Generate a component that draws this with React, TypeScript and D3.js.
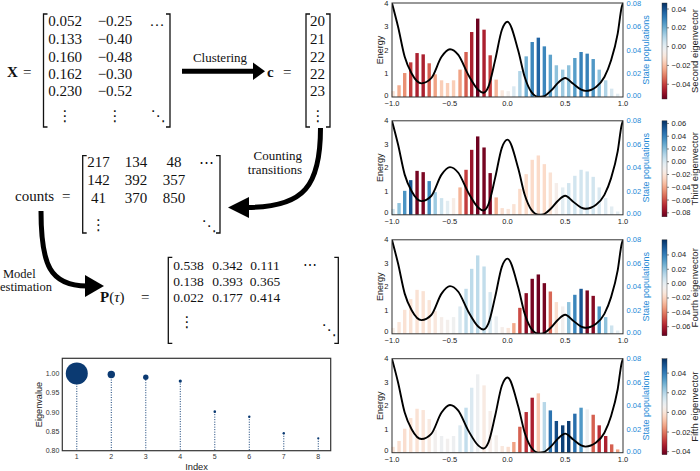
import React from "react";
import * as d3 from "d3";

// ---------- DATA ----------
const xMatrix = [
  ["0.052", "−0.25", "…"],
  ["0.133", "−0.40", ""],
  ["0.160", "−0.48", ""],
  ["0.162", "−0.30", ""],
  ["0.230", "−0.52", ""],
];
const cVector = ["20", "21", "22", "22", "23"];
const countsMatrix = [
  ["217", "134", "48", "⋯"],
  ["142", "392", "357", ""],
  ["41", "370", "850", ""],
];
const pMatrix = [
  ["0.538", "0.342", "0.111", "⋯"],
  ["0.138", "0.393", "0.365", ""],
  ["0.022", "0.177", "0.414", ""],
];

const eigIndex = [1, 2, 3, 4, 5, 6, 7, 8];
const eigValue = [1.0, 0.997, 0.99, 0.98, 0.901, 0.888, 0.845, 0.832];
const eigRadius = [11, 3.7, 2.7, 1.6, 1.3, 1.2, 1.2, 1.1];
const eigYTicks = [0.8, 0.85, 0.9, 0.95, 1.0];

const stateX = [-0.991, -0.939, -0.89, -0.838, -0.783, -0.73, -0.678, -0.626, -0.571, -0.519, -0.467, -0.411, -0.359, -0.31, -0.258, -0.203, -0.15, -0.098, -0.046, 0.006, 0.055, 0.107, 0.162, 0.214, 0.267, 0.319, 0.371, 0.423, 0.478, 0.53, 0.583, 0.637, 0.69, 0.742, 0.794, 0.85, 0.902, 0.954];
const statePop = [0.005, 0.01, 0.0204, 0.0295, 0.0374, 0.0363, 0.0287, 0.0193, 0.0142, 0.0119, 0.0142, 0.0233, 0.0383, 0.0553, 0.0667, 0.0573, 0.0355, 0.0148, 0.0057, 0.005, 0.0091, 0.0221, 0.0346, 0.0468, 0.0505, 0.0431, 0.036, 0.027, 0.0233, 0.027, 0.0332, 0.0383, 0.0369, 0.0323, 0.0233, 0.0142, 0.0071, 0.0028];

const energyX = [-1.0, -0.948, -0.89, -0.83, -0.745, -0.66, -0.571, -0.498, -0.426, -0.339, -0.252, -0.209, -0.165, -0.107, -0.049, 0.0, 0.092, 0.149, 0.207, 0.27, 0.31, 0.379, 0.437, 0.5, 0.566, 0.638, 0.676, 0.767, 0.839, 0.897, 0.954, 0.989, 1.0];
const energyY = [3.99, 3.0, 1.71, 1.0, 0.58, 0.8, 1.71, 2.03, 1.79, 0.94, 0.3, 0.18, 0.44, 1.57, 2.85, 3.2, 1.99, 0.85, 0.21, 0.0, 0.02, 0.28, 0.6, 0.81, 0.57, 0.31, 0.26, 0.43, 0.85, 1.56, 2.7, 3.83, 4.0];

const ev2 = [-0.0118, -0.023, -0.0281, -0.0404, -0.0455, -0.0455, -0.0353, -0.0251, -0.0169, -0.0169, -0.0169, -0.0251, -0.0353, -0.0455, -0.055, -0.0455, -0.0404, -0.022, -0.0098, -0.0047, 0.0025, 0.0107, 0.0199, 0.029, 0.0362, 0.029, 0.0229, 0.0158, 0.0137, 0.0158, 0.0239, 0.0301, 0.0301, 0.025, 0.0158, 0.0107, 0.0035, 0.0005];
const ev3 = [0.004, 0.0191, 0.0341, 0.0537, -0.0833, -0.0818, 0.0371, 0.016, 0.004, -0.0035, -0.0156, -0.0366, -0.0637, -0.0758, -0.0848, -0.0833, -0.0818, -0.0381, -0.0231, -0.0201, -0.0216, -0.0246, -0.0246, -0.0246, -0.0246, -0.0246, -0.0216, -0.0141, -0.0035, 0.0025, 0.0025, 0.0025, 0.0025, 0.0025, -0.0005, -0.002, -0.0035, -0.0035];
const ev4 = [-0.0098, -0.0138, -0.0152, -0.0152, -0.0152, -0.0152, -0.0138, -0.0125, -0.0085, -0.0071, -0.0045, 0.0036, 0.0103, 0.0116, 0.0116, 0.0103, 0.0049, -0.0018, -0.0085, -0.0138, -0.0312, -0.05, -0.066, -0.07, -0.0714, -0.07, -0.0446, -0.0165, -0.0058, 0.021, 0.0384, 0.0517, -0.07, -0.0673, 0.0343, 0.021, 0.0076, 0.0009];
const ev5 = [-0.001, -0.002, -0.002, -0.001, -0.001, 0.0, 0.0019, 0.0058, 0.0078, 0.0058, 0.0078, 0.0126, 0.0175, 0.0126, 0.0078, 0.0019, 0.0038, 0.0048, 0.0009, -0.002, -0.0138, -0.0235, -0.0304, -0.0333, -0.0069, 0.0195, 0.042, 0.0498, 0.0518, 0.0527, 0.043, 0.0342, 0.0078, -0.0235, -0.0304, -0.0333, -0.0235, -0.0138];

const panelLabels = ["Second eigenvector", "Third eigenvector", "Fourth eigenvector", "Fifth eigenvector"];
const panelValues = [ev2, ev3, ev4, ev5];
const panelDomains = [[-0.0557, 0.0464], [-0.0863, 0.0642], [-0.0727, 0.0611], [-0.0431, 0.0547]];
const panelCbTicks = [
  [0.04, 0.02, 0.0, -0.02, -0.04],
  [0.06, 0.04, 0.02, 0.0, -0.02, -0.04, -0.06, -0.08],
  [0.04, 0.02, 0.0, -0.02, -0.04, -0.06],
  [0.04, 0.02, 0.0, -0.02, -0.04],
];
const energyTicks = [0, 1, 2, 3, 4];
const popTicks = [0, 0.02, 0.04, 0.06, 0.08];
const xTicks = [-1.0, -0.5, 0.0, 0.5, 1.0];

// ---------- STYLE ----------
const SANS = "'Liberation Sans', Arial, Helvetica, sans-serif";
const SERIF = "'Liberation Serif', 'Times New Roman', serif";
const DOTS = "'DejaVu Serif', 'DejaVu Sans', serif";
const BLUE = "#2389d6";
const NAVY = "#0b3a72";
const fmtMinus = (s: string) => s.replace("-", "−");

function Bracket({ x1, x2, y1, y2 }: { x1: number; x2: number; y1: number; y2: number }) {
  const s = 4;
  const d = `M${x1 + s},${y1} H${x1} V${y2} H${x1 + s} M${x2 - s},${y1} H${x2} V${y2} H${x2 - s}`;
  return <path d={d} fill="none" stroke="#111" strokeWidth={1.3} />;
}

function LeftDiagram() {
  const xRowY = [26, 44, 61.7, 79.3, 96];
  const xColX = [65, 115, 157];
  const cntRowY = [167.3, 185, 202.7];
  const cntColX = [98.5, 136, 174, 206];
  const pRowY = [269.5, 285.5, 302];
  const pColX = [188.5, 227.5, 265, 310];
  return (
    <g fontFamily={SERIF} fill="#111">
      {/* X = matrix */}
      <text x={7} y={77} fontSize={15} fontWeight="bold">X</text>
      <text x={23} y={77} fontSize={15}>=</text>
      <Bracket x1={43.5} x2={170} y1={14} y2={127} />
      {xMatrix.map((row, r) =>
        row.map((v, c) =>
          v ? (
            <text key={`x${r}${c}`} x={xColX[c]} y={xRowY[r]} fontSize={15} textAnchor="middle">{v}</text>
          ) : null
        )
      )}
      <text x={65} y={121} fontSize={15} textAnchor="middle" fontFamily={DOTS}>⋮</text>
      <text x={115} y={121} fontSize={15} textAnchor="middle" fontFamily={DOTS}>⋮</text>
      <text x={158} y={121} fontSize={15} textAnchor="middle" fontFamily={DOTS}>⋱</text>

      {/* Clustering arrow */}
      <text x={220} y={62} fontSize={13} textAnchor="middle">Clustering</text>
      <line x1={182} x2={255} y1={71.3} y2={71.3} stroke="#000" strokeWidth={5} />
      <polygon points="253,62.5 265,71.3 253,80" fill="#000" />

      {/* c = vector */}
      <text x={267} y={77} fontSize={15} fontWeight="bold">c</text>
      <text x={283} y={77} fontSize={15}>=</text>
      <Bracket x1={306} x2={330} y1={14} y2={127} />
      {cVector.map((v, r) => (
        <text key={`c${r}`} x={317.5} y={xRowY[r]} fontSize={15} textAnchor="middle">{v}</text>
      ))}
      <text x={318} y={121} fontSize={15} textAnchor="middle" fontFamily={DOTS}>⋮</text>

      {/* Counting transitions arrow */}
      <path d="M320.5,128 C320.5,185 305,207.5 247,207.5" fill="none" stroke="#000" strokeWidth={5} />
      <polygon points="249,197 228,207.5 249,218" fill="#000" />
      <text x={302} y={160} fontSize={13} textAnchor="end">Counting</text>
      <text x={302} y={174} fontSize={13} textAnchor="end">transitions</text>

      {/* counts matrix */}
      <text x={15} y={200.5} fontSize={15}>counts</text>
      <text x={62} y={200.5} fontSize={15}>=</text>
      <Bracket x1={82.7} x2={220} y1={155.7} y2={233} />
      {countsMatrix.map((row, r) =>
        row.map((v, c) =>
          v ? (
            <text key={`n${r}${c}`} x={cntColX[c]} y={cntRowY[r]} fontSize={15} textAnchor="middle">{v}</text>
          ) : null
        )
      )}
      <text x={98.5} y={230} fontSize={15} textAnchor="middle" fontFamily={DOTS}>⋮</text>
      <text x={209} y={231} fontSize={15} textAnchor="middle" fontFamily={DOTS}>⋱</text>

      {/* Model estimation arrow */}
      <path d="M41,211 C41,265 50,286 87,286" fill="none" stroke="#000" strokeWidth={5} />
      <polygon points="85,275 104,286 85,297" fill="#000" />
      <text x={3} y={277.5} fontSize={12.5}>Model</text>
      <text x={0} y={290.5} fontSize={12.5}>estimation</text>

      {/* P matrix */}
      <text x={100} y={302} fontSize={15}>
        <tspan fontWeight="bold">P</tspan>(<tspan fontStyle="italic">τ</tspan>)
      </text>
      <text x={141} y={302} fontSize={15}>=</text>
      <Bracket x1={168.3} x2={338.3} y1={257.3} y2={343.3} />
      {pMatrix.map((row, r) =>
        row.map((v, c) =>
          v ? (
            <text key={`p${r}${c}`} x={pColX[c]} y={pRowY[r]} fontSize={13.5} textAnchor="middle">{v}</text>
          ) : null
        )
      )}
      <text x={187} y={327} fontSize={15} textAnchor="middle" fontFamily={DOTS}>⋮</text>
      <text x={329} y={335} fontSize={15} textAnchor="middle" fontFamily={DOTS}>⋱</text>
    </g>
  );
}

function EigenvaluePlot() {
  const L = 62.3, R = 330.7, T = 358.3, B = 450.7;
  const x = d3.scaleLinear().domain([0.58, 8.36]).range([L, R]);
  const y = d3.scaleLinear().domain([0.8, 1.039]).range([B, T]);
  return (
    <g fontFamily={SANS}>
      {eigIndex.map((d, i) => (
        <line key={`s${i}`} x1={x(d)} x2={x(d)} y1={y(eigValue[i])} y2={B} stroke={NAVY} strokeWidth={1} strokeDasharray="1,1.5" />
      ))}
      {eigIndex.map((d, i) => (
        <circle key={`c${i}`} cx={x(d)} cy={y(eigValue[i])} r={eigRadius[i]} fill={NAVY} />
      ))}
      <rect x={L} y={T} width={R - L} height={B - T} fill="none" stroke="#333" strokeWidth={1.2} />
      {eigYTicks.map((t) => (
        <text key={`yt${t}`} x={L - 3} y={y(t)} fontSize={7} textAnchor="end" dominantBaseline="central" fill="#333">
          {t.toFixed(2)}
        </text>
      ))}
      {eigIndex.map((d) => (
        <text key={`xt${d}`} x={x(d)} y={B + 8.6} fontSize={7} textAnchor="middle" fill="#333">{d}</text>
      ))}
      <text transform={`translate(41.5,${(T + B) / 2}) rotate(-90)`} fontSize={9.2} textAnchor="middle" fill="#222">Eigenvalue</text>
      <text x={(L + R) / 2} y={470} fontSize={9.3} textAnchor="middle" fill="#222">Index</text>
    </g>
  );
}

function EigenPanel({ idx, top }: { idx: number; top: number }) {
  const L = 392, R = 623, H = 94;
  const B = top + H;
  const values = panelValues[idx];
  const dom = panelDomains[idx];
  const x = d3.scaleLinear().domain([-1, 1]).range([L, R]);
  const yE = d3.scaleLinear().domain([0, 4]).range([B, top]);
  const yP = d3.scaleLinear().domain([0, 0.08]).range([B, top]);
  const cScale = d3.scaleLinear().domain(dom).range([0, 1]).clamp(true);
  const color = (v: number) => d3.interpolateRdBu(cScale(v));
  const line = d3
    .line<number>()
    .x((_, i) => x(energyX[i]))
    .y((d) => yE(d))
    .curve(d3.curveMonotoneX);
  const cbTop = top, cbH = 96, cbX = 662, cbW = 5;
  const yC = d3.scaleLinear().domain(dom).range([cbTop + cbH, cbTop]);
  const gid = `cb${idx}`;
  const stops = d3.range(0, 1.0001, 0.05);
  return (
    <g fontFamily={SANS}>
      <defs>
        <linearGradient id={gid} x1="0" y1="1" x2="0" y2="0">
          {stops.map((s) => (
            <stop key={s} offset={s} stopColor={d3.interpolateRdBu(s)} />
          ))}
        </linearGradient>
        <clipPath id={`clip${idx}`}>
          <rect x={L} y={top - 1} width={R - L} height={H + 1} />
        </clipPath>
      </defs>
      {stateX.map((sx, i) => (
        <rect key={i} x={x(sx) - 1.7} width={3.4} y={yP(statePop[i])} height={B - yP(statePop[i])} fill={color(values[i])} />
      ))}
      <path d={line(energyY) || ""} fill="none" stroke="#000" strokeWidth={1.9} clipPath={`url(#clip${idx})`} />
      <rect x={L} y={top} width={R - L} height={H} fill="none" stroke="#333" strokeWidth={1} />
      {energyTicks.map((t) => (
        <text key={`e${t}`} x={388.5} y={t === 0 ? yE(t) - 2 : yE(t)} fontSize={7.5} textAnchor="end" dominantBaseline="central" fill="#222">{t}</text>
      ))}
      {popTicks.map((t) => (
        <text key={`p${t}`} x={626.5} y={t === 0 ? yP(t) - 1.5 : yP(t)} fontSize={7.5} dominantBaseline="central" fill={BLUE}>{t.toFixed(2)}</text>
      ))}
      {xTicks.map((t) => (
        <text key={`x${t}`} x={x(t)} y={B + 9} fontSize={7.5} textAnchor="middle" fill="#222">{fmtMinus(t.toFixed(1))}</text>
      ))}
      <text transform={`translate(383,${top + H / 2}) rotate(-90)`} fontSize={9} textAnchor="middle" fill="#222">Energy</text>
      <text transform={`translate(648.5,${top + H / 2}) rotate(-90)`} fontSize={9} textAnchor="middle" fill={BLUE}>State populations</text>
      {/* colorbar */}
      <rect x={cbX} y={cbTop} width={cbW} height={cbH} fill={`url(#${gid})`} stroke="#333" strokeWidth={0.4} />
      {panelCbTicks[idx].map((t) => (
        <g key={`cb${t}`}>
          <line x1={cbX + cbW} x2={cbX + cbW + 2} y1={yC(t)} y2={yC(t)} stroke="#333" strokeWidth={0.6} />
          <text x={671.5} y={yC(t)} fontSize={7.5} dominantBaseline="central" fill="#222">{fmtMinus(t.toFixed(2))}</text>
        </g>
      ))}
      <text transform={`translate(698,${cbTop + cbH / 2}) rotate(-90)`} fontSize={9.5} textAnchor="middle" fill="#222">{panelLabels[idx]}</text>
    </g>
  );
}

export default function App() {
  const tops = [3, 120.8, 239.8, 358.7];
  return (
    <svg width={700} height={471} viewBox="0 0 700 471" style={{ position: "absolute", left: 0, top: 0, background: "#fff" }}>
      <rect x={0} y={0} width={700} height={471} fill="#fff" />
      <LeftDiagram />
      <EigenvaluePlot />
      {tops.map((t, i) => (
        <EigenPanel key={i} idx={i} top={t} />
      ))}
    </svg>
  );
}
